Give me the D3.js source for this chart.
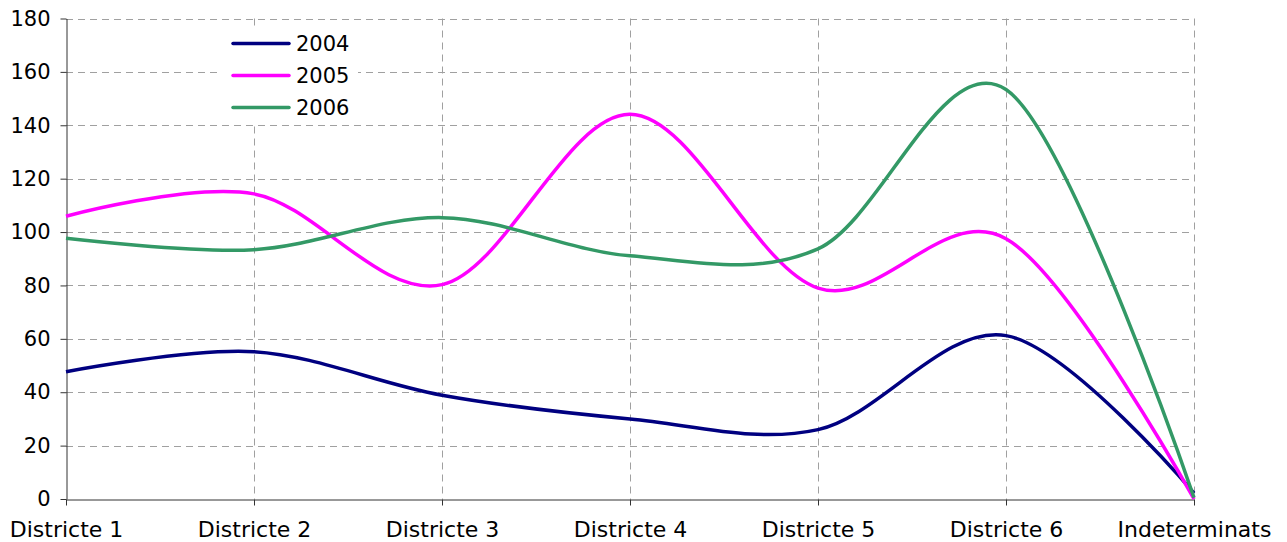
<!DOCTYPE html>
<html><head><meta charset="utf-8">
<script src="https://cdn.jsdelivr.net/npm/d3@7"></script>
<style>
html,body{margin:0;padding:0;background:#fff;}
svg{display:block;font-family:"DejaVu Sans",Verdana,sans-serif;}
</style></head>
<body><svg id="chart" width="1287" height="542"></svg>
<script>
const categories = ["Districte 1","Districte 2","Districte 3","Districte 4","Districte 5","Districte 6","Indeterminats"];
const values2004 = [47.7, 55.2, 38.9, 30.0, 26.0, 61.2, 2.2];
const values2005 = [105.9, 114.3, 80.3, 144.1, 79.0, 97.5, 0];
const values2006 = [97.7, 93.4, 105.4, 91.1, 93.7, 153.4, 0.5];
const seriesNames = ["2004","2005","2006"];
const seriesColors = ["#000080","#FF00FF","#339966"];
const yTicks = [0,20,40,60,80,100,120,140,160,180];

const series = [values2004, values2005, values2006].map((v,i)=>({name:seriesNames[i], color:seriesColors[i], values:v}));

const svg = d3.select("#chart");
const plotLeft = 66, plotRight = 1194, plotTop = 18.5, plotBottom = 499;

const x = d3.scalePoint().domain(categories).range([plotLeft, plotRight]);
const y = d3.scaleLinear().domain([0,180]).range([plotBottom, plotTop]);

// grid
const grid = svg.append("g");
grid.selectAll("line.h").data(yTicks.filter(d=>d>0)).join("line")
  .attr("x1", plotLeft).attr("x2", plotRight)
  .attr("y1", d=>Math.round(y(d))+0.5).attr("y2", d=>Math.round(y(d))+0.5)
  .attr("stroke","#a0a0a0").attr("stroke-width",1).attr("stroke-dasharray","7,5");
grid.selectAll("line.v").data(categories.slice(1)).join("line")
  .attr("x1", d=>Math.round(x(d))+0.5).attr("x2", d=>Math.round(x(d))+0.5)
  .attr("y1", plotTop).attr("y2", plotBottom)
  .attr("stroke","#a0a0a0").attr("stroke-width",1).attr("stroke-dasharray","7,5");

// axes
const yAxis = svg.append("g").attr("transform",`translate(${plotLeft+0.5},0)`)
  .call(d3.axisLeft(y).tickValues(yTicks).tickSize(6).tickPadding(10).tickSizeOuter(0));
yAxis.select(".domain").attr("stroke","#333");
yAxis.selectAll(".tick line").attr("stroke","#333");
yAxis.selectAll("text").attr("font-size",21).attr("fill","#000").attr("font-family","DejaVu Sans, Verdana, sans-serif");

const xAxis = svg.append("g").attr("transform",`translate(0,${Math.round(plotBottom)+0.5})`)
  .call(d3.axisBottom(x).tickSize(6).tickPadding(16).tickSizeOuter(0));
xAxis.select(".domain").attr("stroke","#333");
xAxis.selectAll(".tick line").attr("stroke","#333");
xAxis.selectAll("text").attr("font-size",22).attr("fill","#000").attr("font-family","DejaVu Sans, Verdana, sans-serif");

// lines
const line = d3.line()
  .x((d,i)=>x(categories[i]))
  .y(d=>y(d))
  .curve(d3.curveCardinal.tension(0));
svg.append("g").selectAll("path").data(series).join("path")
  .attr("d", d=>line(d.values))
  .attr("fill","none")
  .attr("stroke", d=>d.color)
  .attr("stroke-width",3.5)
  .attr("stroke-linejoin","round");

// legend
const lg = svg.append("g");
lg.append("rect").attr("x",222).attr("y",27).attr("width",136).attr("height",95).attr("fill","#fff");
const rowY = d3.scaleLinear().domain([0,2]).range([43.5,107.5]);
series.forEach((s,i)=>{
  lg.append("line").attr("x1",233).attr("x2",289).attr("y1",rowY(i)).attr("y2",rowY(i))
    .attr("stroke",s.color).attr("stroke-width",3.5).attr("stroke-linecap","round");
  lg.append("text").attr("x",296).attr("y",rowY(i)).attr("dy","0.35em")
    .attr("font-size",21).text(s.name);
});
</script>
</body></html>
